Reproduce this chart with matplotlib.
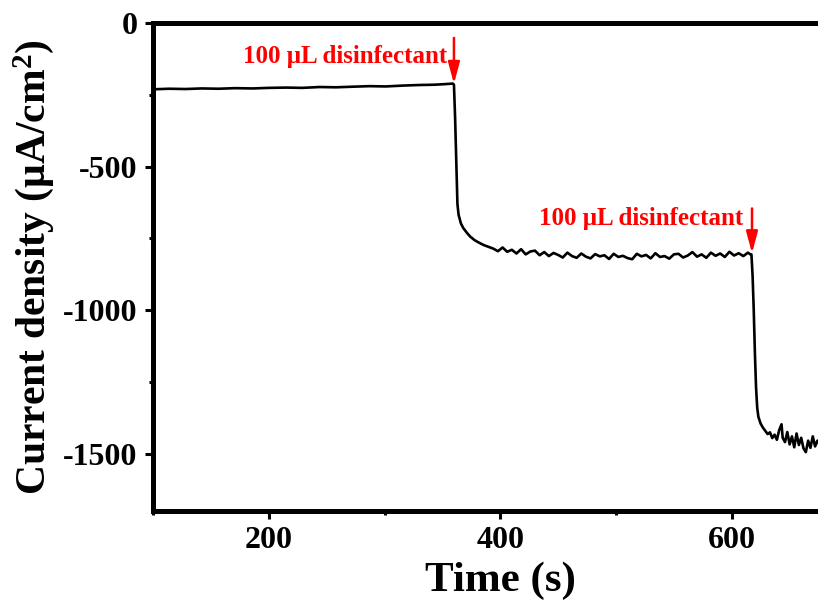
import matplotlib
matplotlib.use('Agg')
import matplotlib.pyplot as plt
from matplotlib.ticker import MultipleLocator

# Chronoamperometry trace
# 1. baseline before the first addition
t_base = [100, 114, 128, 142, 157, 171, 186, 200, 215, 229, 244, 258, 272, 287, 301, 316, 330, 343, 352, 359]
j_base = [-231, -229, -230, -228, -229, -227, -228, -226, -225, -226, -223, -224, -222, -220, -221, -218, -216, -215, -213, -211]

# 2. first drop and the noisy plateau
t_mid = [360, 361, 362, 363, 364, 366, 368, 371, 374, 378, 382, 386, 390,
         394, 398, 402, 406, 410, 414, 418, 422, 426, 430, 434, 438, 442, 446,
         450, 454, 458, 462, 466, 470, 474, 478, 482, 486, 490, 494, 498, 502,
         506, 510, 514, 518, 522, 526, 530, 534, 538, 542, 546, 550, 554, 558,
         562, 566, 570, 574, 578, 582, 586, 590, 594, 598, 602, 606, 610, 614, 616]
j_mid = [-215, -330, -480, -630, -668, -698, -714, -730, -744, -757, -766, -774, -780,
         -786, -795, -782, -797, -790, -803, -788, -806, -796, -793, -809, -798, -812, -801,
         -808, -817, -800, -812, -818, -803, -814, -820, -805, -813, -809, -822, -804, -815,
         -811, -819, -823, -804, -813, -808, -820, -802, -815, -812, -821, -806, -804, -817,
         -810, -798, -814, -806, -818, -800, -811, -803, -815, -797, -810, -802, -812, -800, -806]

# 3. second drop and the final noisy plateau
t_end = [617, 618, 619, 620, 621, 622, 623, 625, 627, 629, 631, 633, 635, 637, 639,
         641, 643, 644, 646, 648, 650, 652, 654, 656, 658, 660, 662, 664, 666, 668,
         670, 672, 674, 676]
j_end = [-806, -880, -1000, -1150, -1270, -1340, -1372, -1396, -1410, -1421, -1432, -1426, -1446, -1434, -1452,
         -1418, -1398, -1445, -1460, -1425, -1468, -1440, -1478, -1430, -1470, -1445, -1482, -1495, -1455, -1480,
         -1440, -1475, -1455, -1470]

t = t_base + t_mid + t_end
j = j_base + j_mid + j_end

# additions of disinfectant
add_times = [360, 617.5]
add_top = [-52, -646]
add_bottom = [-212, -802]
add_text = ['100 \u03bcL disinfectant', '100 \u03bcL disinfectant']
text_x = [354, 610]
text_y = [-140, -705]

plt.rcParams['font.family'] = ['Liberation Serif', 'DejaVu Serif']
plt.rcParams['font.weight'] = 'bold'
plt.rcParams['axes.unicode_minus'] = False
plt.rcParams['mathtext.fontset'] = 'custom'
plt.rcParams['mathtext.rm'] = 'Liberation Serif:bold'
plt.rcParams['mathtext.bf'] = 'Liberation Serif:bold'
plt.rcParams['mathtext.it'] = 'Liberation Serif:bold:italic'

fig = plt.figure(figsize=(8.18, 6.02), dpi=100)
# axes run past the right edge, like the cropped original
ax = fig.add_axes([153 / 818, (602 - 511) / 602, 694.5 / 818, 488 / 602])

ax.plot(t, j, color='black', linewidth=1.9)

for x, y0, y1 in zip(add_times, add_top, add_bottom):
    ax.annotate('', xy=(x, y1), xytext=(x, y0),
                arrowprops=dict(arrowstyle='-|>,head_length=1.3,head_width=0.35',
                                color='red', lw=1.8, shrinkA=0, shrinkB=0))
for x, y, s in zip(text_x, text_y, add_text):
    ax.text(x, y, s, color='red', fontsize=18, fontweight='bold', ha='right', va='baseline')

ax.set_xlim(100, 700)
ax.set_ylim(-1700, 0)
ax.xaxis.set_major_locator(MultipleLocator(200))
ax.xaxis.set_minor_locator(MultipleLocator(100))
ax.yaxis.set_major_locator(MultipleLocator(500))
ax.yaxis.set_minor_locator(MultipleLocator(250))

for side in ['left', 'bottom', 'top']:
    ax.spines[side].set_linewidth(3.6)
ax.spines['right'].set_visible(False)

ax.tick_params(which='major', direction='out', length=6, width=2.2, labelsize=23, pad=5)
ax.tick_params(which='minor', direction='out', length=3, width=2.2)
for lab in ax.get_xticklabels() + ax.get_yticklabels():
    lab.set_fontweight('bold')

ax.set_xlabel('Time (s)', fontsize=31, fontweight='bold')
ax.set_ylabel('Current density (\u03bcA/cm$^{2}$)', fontsize=30, fontweight='bold')
ax.xaxis.set_label_coords(0.5, -0.103)
# label coords give the right-hand edge of the rotated label
ax.yaxis.set_label_coords(-0.14, 0.5)

fig.savefig('out.png', dpi=100)
